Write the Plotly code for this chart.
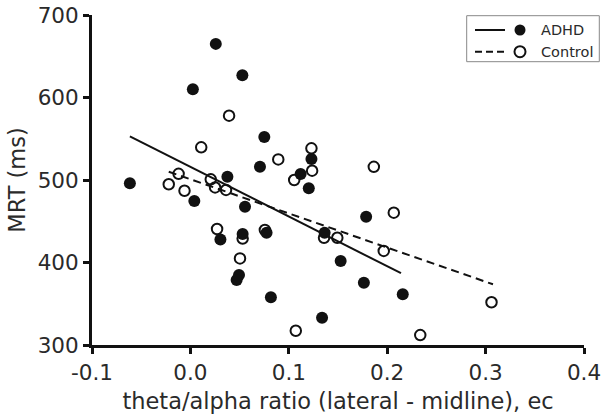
import plotly.graph_objects as go

# ADHD group: theta/alpha ratio (lateral - midline) vs mean reaction time
adhd_ratio = [-0.0615, 0.0025, 0.0258, 0.0528, 0.0751, 0.0707, 0.0040, 0.0376,
              0.0555, 0.0305, 0.0531, 0.0494, 0.0470, 0.0774, 0.1230, 0.1120,
              0.1203, 0.1786, 0.1364, 0.1527, 0.1763, 0.2158, 0.0818, 0.1338]
adhd_mrt = [496, 610, 665, 627, 552, 516, 474.5, 504,
            467.6, 428, 434.5, 384.8, 378.8, 436, 525.5, 507.3,
            490, 455.5, 436, 401.8, 375.5, 361.5, 357.8, 333]

# Control group
control_ratio = [0.0393, 0.0110, -0.0120, -0.0220, -0.0060, 0.0207, 0.0251, 0.0362,
                 0.0271, 0.0531, 0.0504, 0.0757, 0.0893, 0.1230, 0.1237, 0.1055,
                 0.1864, 0.2067, 0.1358, 0.1493, 0.1965, 0.1071, 0.2336, 0.3060]
control_mrt = [578, 539.6, 507.5, 494.8, 487, 500.8, 491, 488,
               440.6, 429, 405, 439.4, 525, 538.4, 511.3, 500,
               516, 460.4, 430, 430, 414, 317.3, 312, 351.8]

# Regression line end points for each group
adhd_fit_x = [-0.0615, 0.214]
adhd_fit_y = [553, 387]
control_fit_x = [-0.022, 0.3075]
control_fit_y = [510, 373.6]

x_tick_vals = [-0.1, 0.0, 0.1, 0.2, 0.3, 0.4]
x_tick_labels = ["-0.1", "0.0", "0.1", "0.2", "0.3", "0.4"]
y_tick_vals = [300, 400, 500, 600, 700]

W, H = 605, 420
ML, MR, MT, MB = 92, 21, 15, 75
PW, PH = W - ML - MR, H - MT - MB
FONT = "DejaVu Sans"
INK = "#111111"
TXT = "#2a2a2a"


def px(x):
    return (x - ML) / PW


def py(y):
    return (H - MB - y) / PH


fig = go.Figure()

fig.add_trace(go.Scatter(x=adhd_fit_x, y=adhd_fit_y, mode="lines",
                         line=dict(color=INK, width=2), showlegend=False))
fig.add_trace(go.Scatter(x=control_fit_x, y=control_fit_y, mode="lines",
                         line=dict(color=INK, width=2, dash="8px,5px"),
                         showlegend=False))
fig.add_trace(go.Scatter(x=control_ratio, y=control_mrt, mode="markers",
                         marker=dict(symbol="circle-open", size=10.5,
                                     color=INK, line=dict(width=2, color=INK)),
                         showlegend=False, cliponaxis=False))
fig.add_trace(go.Scatter(x=adhd_ratio, y=adhd_mrt, mode="markers",
                         marker=dict(symbol="circle", size=12, color=INK,
                                     line=dict(width=0)),
                         showlegend=False, cliponaxis=False))

# Legend box drawn by hand: line sample, marker, label
shapes = [dict(type="rect", xref="paper", yref="paper",
               x0=px(466.7), x1=px(599.3), y0=py(61.7), y1=py(15.7),
               line=dict(color="#888888", width=1), fillcolor="white",
               layer="below")]
annotations = []
legend_rows = [("ADHD", 30.0, "solid", True), ("Control", 51.7, "dash", False)]
r = 5.5
for label, yc, dash, filled in legend_rows:
    shapes.append(dict(type="line", xref="paper", yref="paper",
                       x0=px(475), x1=px(505), y0=py(yc), y1=py(yc),
                       line=dict(color=INK, width=2,
                                 dash="solid" if dash == "solid" else "7px,4px")))
    shapes.append(dict(type="circle", xref="paper", yref="paper",
                       x0=px(520 - r), x1=px(520 + r),
                       y0=py(yc + r), y1=py(yc - r),
                       fillcolor=INK if filled else "white",
                       line=dict(color=INK, width=0 if filled else 2)))
    annotations.append(dict(xref="paper", yref="paper", x=px(539), y=py(yc),
                            text=label, showarrow=False, xanchor="left",
                            yanchor="middle",
                            font=dict(family=FONT, size=14.5, color=TXT)))

fig.update_layout(
    width=W, height=H, autosize=False,
    margin=dict(l=ML, r=MR, t=MT, b=MB),
    paper_bgcolor="white", plot_bgcolor="white",
    shapes=shapes, annotations=annotations,
    xaxis=dict(range=[-0.1, 0.4], tickvals=x_tick_vals, ticktext=x_tick_labels,
               automargin=False,
               showgrid=False, zeroline=False, showline=True,
               linecolor=INK, linewidth=3, ticks="outside", ticklen=6,
               tickwidth=3, tickcolor=INK,
               tickfont=dict(family=FONT, size=21.5, color=TXT),
               title=dict(text="theta/alpha ratio (lateral - midline), ec",
                          font=dict(family=FONT, size=22.5, color=TXT),
                          standoff=10)),
    yaxis=dict(range=[300, 700], tickvals=y_tick_vals,
               automargin=False,
               showgrid=False, zeroline=False, showline=True,
               linecolor=INK, linewidth=3, ticks="outside", ticklen=6,
               tickwidth=3, tickcolor=INK,
               tickfont=dict(family=FONT, size=21.5, color=TXT),
               title=dict(text="MRT (ms)",
                          font=dict(family=FONT, size=22.5, color=TXT),
                          standoff=6)),
)

fig.write_html("out.html")
